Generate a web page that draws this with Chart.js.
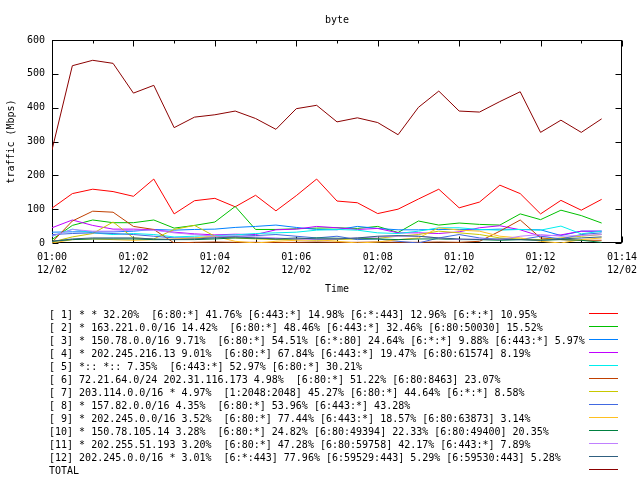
<!DOCTYPE html>
<html>
<head>
<meta charset="utf-8">
<title>byte</title>
<script src="https://cdn.jsdelivr.net/npm/chart.js@4"></script>
<style>
  html, body { margin: 0; padding: 0; background: #fff; }
</style>
</head>
<body>
<canvas id="byteChart" width="640" height="480"></canvas>
<script>
// sample times (30 s steps from 01:00)
const times = ['01:00:00', '01:00:30', '01:01:00', '01:01:30', '01:02:00', '01:02:30', '01:03:00',
  '01:03:30', '01:04:00', '01:04:30', '01:05:00', '01:05:30', '01:06:00', '01:06:30',
  '01:07:00', '01:07:30', '01:08:00', '01:08:30', '01:09:00', '01:09:30', '01:10:00',
  '01:10:30', '01:11:00', '01:11:30', '01:12:00', '01:12:30', '01:13:00', '01:13:30'];

const xTickLabels = [['01:00', '12/02'], ['01:02', '12/02'], ['01:04', '12/02'], ['01:06', '12/02'],
  ['01:08', '12/02'], ['01:10', '12/02'], ['01:12', '12/02'], ['01:14', '12/02']];

// Mbps per flow
const s1 = [103, 146, 159, 152, 138, 189, 86, 125, 132, 107, 141, 95, 140, 189, 124, 119, 87, 100, 130, 159, 104, 121, 171, 146, 86, 126, 97, 129];
const s2 = [10, 52, 68, 60, 60, 68, 44, 52, 62, 108, 40, 40, 42, 44, 45, 43, 49, 31, 65, 53, 59, 55, 53, 86, 69, 97, 81, 59];
const s3 = [32, 33, 33, 33, 35, 40, 38, 40, 41, 46, 49, 53, 46, 40, 39, 49, 43, 39, 39, 40, 40, 39, 41, 40, 39, 22, 35, 35];
const s4 = [45, 68, 52, 41, 41, 39, 32, 27, 24, 26, 25, 39, 41, 49, 45, 40, 43, 30, 30, 28, 33, 45, 51, 39, 20, 24, 35, 35];
const s5 = [20, 41, 30, 25, 28, 25, 18, 20, 22, 24, 28, 30, 32, 38, 40, 38, 30, 28, 35, 45, 45, 40, 38, 40, 38, 50, 27, 35];
const s6 = [2, 65, 94, 91, 49, 40, 0, 2, 3, 2, 2, 1, 2, 3, 2, 2, 3, 2, 2, 3, 2, 5, 35, 68, 15, 10, 8, 8];
const s7 = [3, 18, 28, 62, 15, 12, 40, 52, 20, 15, 12, 10, 10, 8, 10, 12, 14, 20, 25, 35, 30, 25, 15, 12, 10, 15, 20, 25];
const s8 = [25, 28, 30, 28, 25, 20, 15, 15, 18, 20, 22, 25, 20, 15, 20, 10, 12, 5, 0, 15, 25, 15, 10, 10, 20, 12, 25, 30];
const s9 = [0, 10, 12, 10, 8, 10, 12, 15, 20, 5, 0, 5, 8, 10, 5, 0, 3, 10, 15, 45, 38, 35, 20, 15, 5, 0, 10, 15];
const s10 = [5, 10, 12, 12, 12, 10, 10, 10, 12, 15, 14, 12, 12, 15, 14, 13, 12, 10, 12, 12, 10, 10, 8, 10, 8, 10, 8, 2];
const s11 = [20, 40, 35, 35, 38, 38, 30, 25, 20, 20, 18, 15, 12, 10, 12, 15, 18, 20, 20, 15, 10, 12, 10, 20, 25, 20, 22, 25];
const s12 = [5, 12, 15, 15, 15, 12, 10, 12, 15, 18, 15, 12, 15, 12, 12, 15, 20, 22, 20, 15, 12, 10, 12, 10, 8, 12, 15, 18];
const total = [275, 524, 540, 531, 443, 466, 341, 372, 379, 390, 368, 336, 397, 407, 358, 370, 356, 320, 401, 449, 390, 387, 418, 447, 327, 363, 327, 367];

const seriesLabels = [
  '[ 1] * * 32.20%  [6:80:*] 41.76% [6:443:*] 14.98% [6:*:443] 12.96% [6:*:*] 10.95%',
  '[ 2] * 163.221.0.0/16 14.42%  [6:80:*] 48.46% [6:443:*] 32.46% [6:80:50030] 15.52%',
  '[ 3] * 150.78.0.0/16 9.71%  [6:80:*] 54.51% [6:*:80] 24.64% [6:*:*] 9.88% [6:443:*] 5.97%',
  '[ 4] * 202.245.216.13 9.01%  [6:80:*] 67.84% [6:443:*] 19.47% [6:80:61574] 8.19%',
  '[ 5] *:: *:: 7.35%  [6:443:*] 52.97% [6:80:*] 30.21%',
  '[ 6] 72.21.64.0/24 202.31.116.173 4.98%  [6:80:*] 51.22% [6:80:8463] 23.07%',
  '[ 7] 203.114.0.0/16 * 4.97%  [1:2048:2048] 45.27% [6:80:*] 44.64% [6:*:*] 8.58%',
  '[ 8] * 157.82.0.0/16 4.35%  [6:80:*] 53.96% [6:443:*] 43.28%',
  '[ 9] * 202.245.0.0/16 3.52%  [6:80:*] 77.44% [6:443:*] 18.57% [6:80:63873] 3.14%',
  '[10] * 150.78.105.14 3.28%  [6:80:*] 24.82% [6:80:49394] 22.33% [6:80:49400] 20.35%',
  '[11] * 202.255.51.193 3.20%  [6:80:*] 47.28% [6:80:59758] 42.17% [6:443:*] 7.89%',
  '[12] 202.245.0.0/16 * 3.01%  [6:*:443] 77.96% [6:59529:443] 5.29% [6:59530:443] 5.28%',
  'TOTAL'
];
const seriesColors = ['#ff0000', '#00c000', '#0080ff', '#c000ff', '#00eeee', '#c04000',
  '#c8c800', '#4169e1', '#ffc020', '#008040', '#c080ff', '#306080', '#8b0000'];
const series = [s1, s2, s3, s4, s5, s6, s7, s8, s9, s10, s11, s12, total];

const FONT = "'DejaVu Sans Mono', 'Liberation Mono', monospace";

// minutes since the first sample
function toMinutes(t) {
  const [h, m, s] = t.split(':').map(Number);
  return h * 60 + m + s / 60;
}
const t0 = toMinutes(times[0]);
const xs = times.map(t => toMinutes(t) - t0);

const datasets = series.map((vals, i) => ({
  label: seriesLabels[i],
  data: vals.map((v, j) => ({ x: xs[j], y: v })),
  borderColor: seriesColors[i],
  backgroundColor: seriesColors[i],
  borderWidth: 1,
  pointRadius: 0,
  tension: 0,
  fill: false,
  order: series.length - i   // later series on top, like gnuplot
}));

// box round the plot with inward ticks
const framePlugin = {
  id: 'frame',
  beforeDatasetsDraw(chart) {
    const { ctx, chartArea: a, scales } = chart;
    const L = Math.round(a.left) + 0.5, R = Math.round(a.right) - 0.5;
    const T = Math.round(a.top) + 0.5, B = Math.round(a.bottom) - 0.5;
    ctx.save();
    ctx.strokeStyle = '#000';
    ctx.lineWidth = 1;
    ctx.strokeRect(L, T, R - L, B - T);
    ctx.beginPath();
    scales.y.ticks.forEach(t => {
      const y = Math.round(scales.y.getPixelForValue(t.value)) + 0.5;
      ctx.moveTo(L, y); ctx.lineTo(L + 6, y);
      ctx.moveTo(R, y); ctx.lineTo(R - 6, y);
    });
    scales.x.ticks.forEach(t => {
      const x = Math.round(scales.x.getPixelForValue(t.value)) + 0.5;
      const len = t.value % 2 === 0 ? 6 : 3;
      ctx.moveTo(x, B); ctx.lineTo(x, B - len);
      ctx.moveTo(x, T); ctx.lineTo(x, T + len);
    });
    ctx.stroke();
    ctx.restore();
  },
  afterDraw(chart) {
    const { ctx, chartArea: a } = chart;
    ctx.save();
    ctx.font = '10px ' + FONT;
    ctx.fillStyle = '#000';
    ctx.textBaseline = 'middle';
    ctx.textAlign = 'center';
    ctx.fillText('byte', (a.left + a.right) / 2, 20);
    // key below the plot
    ctx.textAlign = 'left';
    chart.data.datasets.forEach((ds, i) => {
      const y = 315 + i * 13;
      ctx.fillStyle = '#000';
      ctx.fillText(ds.label, 49, y);
      ctx.strokeStyle = ds.borderColor;
      ctx.lineWidth = 1;
      ctx.beginPath();
      ctx.moveTo(589, Math.round(y - 2) + 0.5);
      ctx.lineTo(618, Math.round(y - 2) + 0.5);
      ctx.stroke();
    });
    ctx.restore();
  }
};

new Chart(document.getElementById('byteChart').getContext('2d'), {
  type: 'line',
  data: { datasets: datasets },
  options: {
    responsive: false,
    animation: false,
    layout: { padding: { top: 40, right: 18, bottom: 181, left: 0 } },
    plugins: {
      legend: { display: false },
      title: { display: false },
      tooltip: { enabled: false }
    },
    scales: {
      x: {
        type: 'linear',
        min: 0,
        max: 14,
        grid: { display: false, drawTicks: false },
        border: { display: false },
        ticks: {
          stepSize: 1,
          autoSkip: false,
          maxRotation: 0,
          padding: 8,
          color: '#000',
          font: { family: FONT, size: 10, lineHeight: 1.3 },
          callback: v => (v % 2 === 0 ? xTickLabels[v / 2] : '')
        },
        title: {
          display: true,
          text: 'Time',
          color: '#000',
          font: { family: FONT, size: 10, lineHeight: 1.2 },
          padding: { top: 0, bottom: 4 }
        },
        afterFit: scale => {
          scale.height = 56;
          scale.paddingLeft = 0;
          scale.paddingRight = 0;
        }
      },
      y: {
        min: 0,
        max: 600,
        grid: { display: false, drawTicks: false },
        border: { display: false },
        ticks: {
          stepSize: 100,
          padding: 7,
          color: '#000',
          font: { family: FONT, size: 10 }
        },
        title: {
          display: true,
          text: 'traffic (Mbps)',
          color: '#000',
          font: { family: FONT, size: 10, lineHeight: 1.2 },
          padding: { top: 5, bottom: 0 }
        },
        afterFit: scale => {
          scale.width = 52;
          scale.paddingTop = 0;
          scale.paddingBottom = 0;
        }
      }
    }
  },
  plugins: [framePlugin]
});
</script>
</body>
</html>
